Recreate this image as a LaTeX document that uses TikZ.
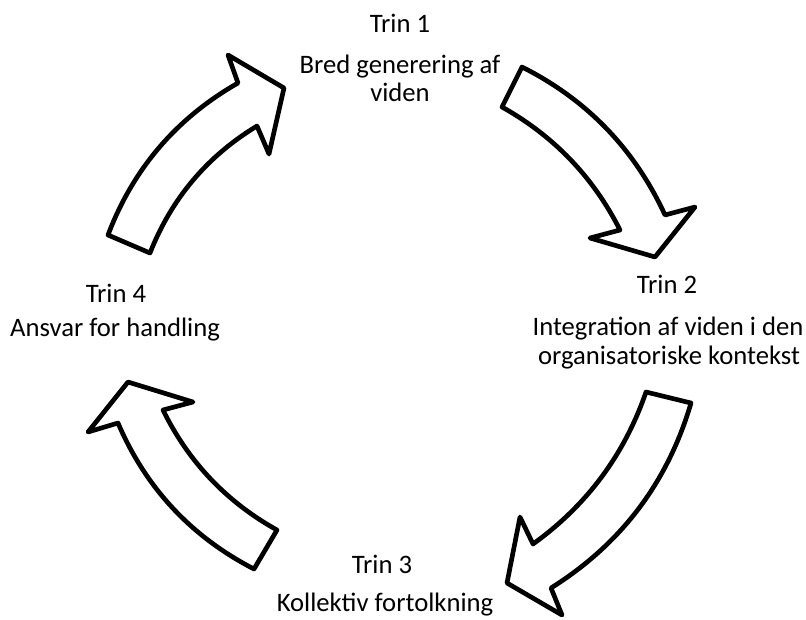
\documentclass[tikz,border=0pt]{standalone}
\usepackage{fontspec}
\setmainfont{Carlito}
\begin{document}
\begin{tikzpicture}[x=0.75pt,y=-0.75pt,
  band/.style={draw=black,line width=3.5pt,line join=round,fill=white},
  lbl/.style={anchor=base,inner sep=0pt,font=\fontsize{20}{24}\selectfont}]
\useasboundingbox (0,0) rectangle (806,619);
% arrow 1 (top left)
\draw[band] (108,235) .. controls (133.1,168.7) and (176.5,118.1) .. (238,83) -- (228,55) -- (284,88) -- (269,154) -- (257,126) .. controls (207.0,156.3) and (171.4,198.7) .. (150,253) -- cycle;
% arrow 2 (top right)
\draw[band] (522,67) .. controls (586.9,99.6) and (634.5,149.0) .. (665,215) -- (695,207) -- (655,257) -- (590,238) -- (620,230) .. controls (593.2,177.0) and (553.8,136.0) .. (502,107) -- cycle;
% arrow 3 (bottom right)
\draw[band] (691,403) .. controls (667.7,482.4) and (621.1,544.0) .. (551,588) -- (562,615) -- (507,583) -- (520,517) -- (533,544) .. controls (586.8,505.3) and (624.4,454.7) .. (646,392) -- cycle;
% arrow 4 (bottom left)
\draw[band] (254,569) .. controls (191.2,536.6) and (145.8,488.0) .. (118,423) -- (88,432) -- (128,382) -- (193,402) -- (163,410) .. controls (188.5,461.9) and (226.5,501.9) .. (277,530) -- cycle;
% labels
\node[lbl] (t1) at (400,32) {Trin 1};
\node[lbl] (d1a) at (400,73) {Bred generering af};
\node[lbl] (d1b) at (400,101) {viden};
\node[lbl] (t2) at (667,293) {Trin 2};
\node[lbl] (d2a) at (668,335) {Integration af viden i den};
\node[lbl] (d2b) at (669,364) {organisatoriske kontekst};
\node[lbl] (t3) at (382,573) {Trin 3};
\node[lbl] (d3) at (385,611) {Kollektiv fortolkning};
\node[lbl] (t4) at (116,302) {Trin 4};
\node[lbl] (d4) at (115,336) {Ansvar for handling};
\end{tikzpicture}
\end{document}
